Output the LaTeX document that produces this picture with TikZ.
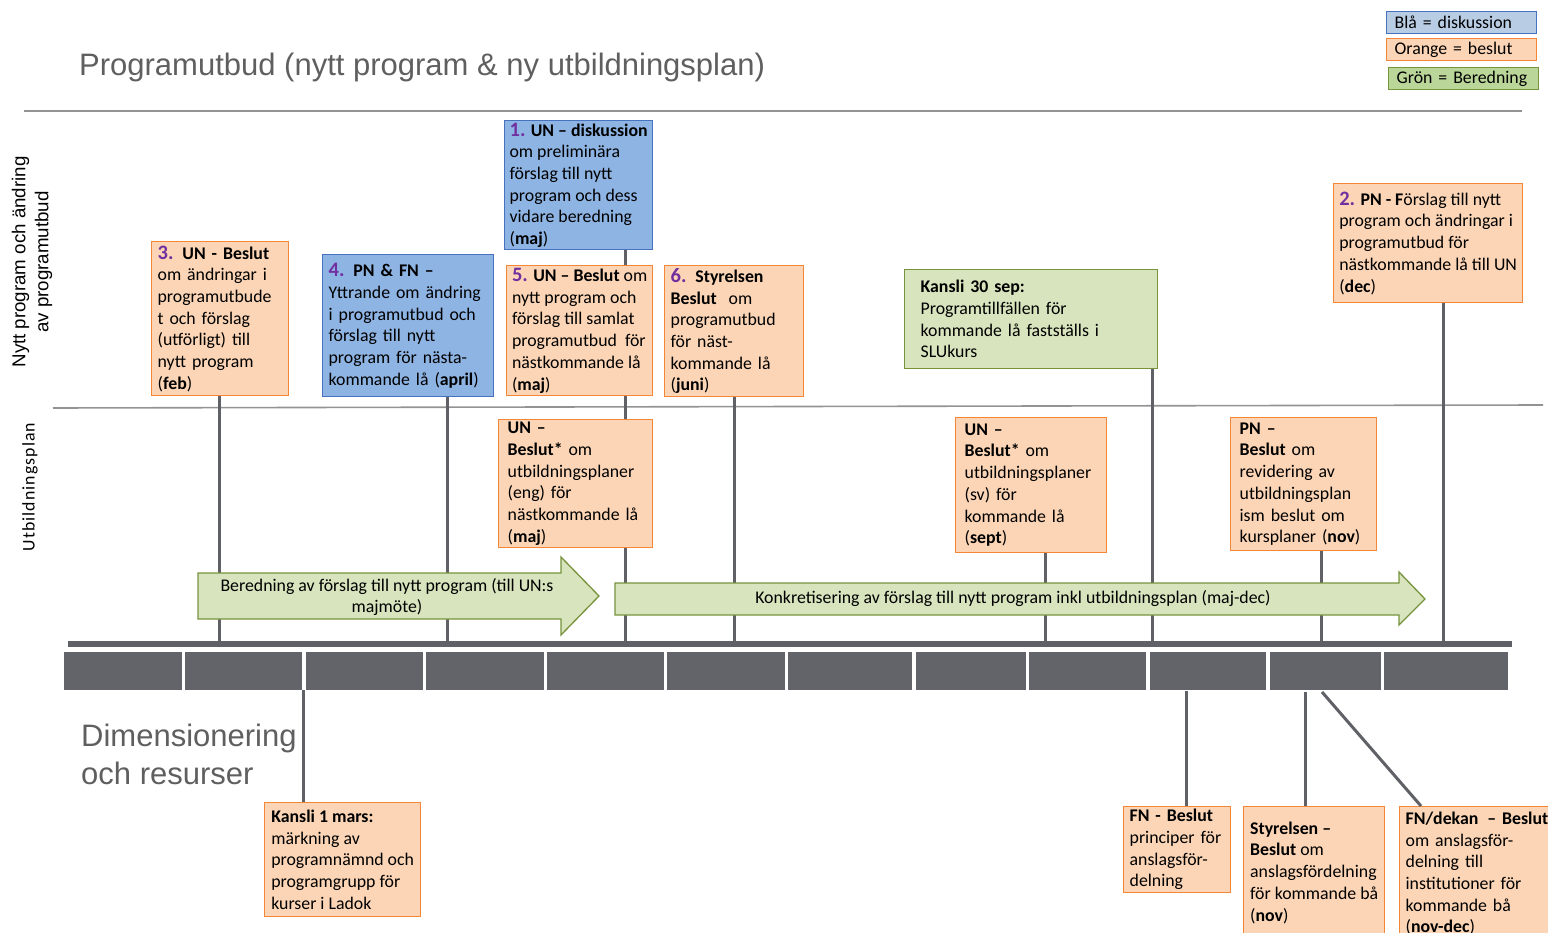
\documentclass[tikz,border=0pt]{standalone}
\usepackage{fontspec}
\setmainfont{Carlito}
\newfontfamily\arialfont{Liberation Sans}

\definecolor{bluefill}{RGB}{142,180,227}
\definecolor{blueline}{RGB}{70,114,190}
\definecolor{legblue}{RGB}{184,204,228}
\definecolor{orangefill}{RGB}{251,213,181}
\definecolor{orangeline}{RGB}{241,135,55}
\definecolor{greenfill}{RGB}{215,228,189}
\definecolor{greenline}{RGB}{119,147,60}
\definecolor{leggreen}{RGB}{187,214,153}
\definecolor{linegray}{RGB}{96,97,102}
\definecolor{blockgray}{RGB}{99,100,105}
\definecolor{textgray}{RGB}{95,95,95}
\definecolor{numpurple}{RGB}{112,48,160}

\newcommand{\boxfont}{\fontsize{17.8}{21.7}\selectfont}
\newcommand{\evnum}[1]{{\fontsize{20.5}{21.7}\selectfont\bfseries\color{numpurple}#1.}}

\tikzset{
    evbox/.style={draw, line width=1.3pt, anchor=north west, inner xsep=6pt,
        inner ysep=1pt, align=left, font=\boxfont},
    beslut/.style={evbox, fill=orangefill, draw=orangeline},
    diskus/.style={evbox, fill=bluefill, draw=blueline},
    bered/.style={evbox, fill=greenfill, draw=greenline},
    legbox/.style={evbox, inner xsep=8pt, inner ysep=0pt, text width=134pt,
        minimum height=22pt},
    conn/.style={draw=linegray, line width=3pt},
    secline/.style={draw=gray!85, line width=1.6pt},
    greenarrow/.style={fill=greenfill, draw=greenline, line width=1.3pt},
}

\begin{document}
\begin{tikzpicture}[x=1pt, y=-1pt]
    \useasboundingbox (0,0) rectangle (1548,933);

    % title, legend and section labels
    \node[anchor=west, inner sep=0, text=textgray, font=\arialfont\fontsize{31}{36}\selectfont]
        (title) at (79,67) {Programutbud (nytt program \& ny utbildningsplan)};
    \node[legbox, fill=legblue, draw=blueline] (legb) at (1386,11) {Blå = diskussion};
    \node[legbox, fill=orangefill, draw=orangeline] (lego) at (1386,38) {Orange = beslut};
    \node[legbox, fill=leggreen, draw=greenline] (legg) at (1388,67) {Grön = Beredning};

    \draw[secline] (24,111) -- (1522,111);
    \draw[secline] (53,408) -- (1543,405);

    \node[rotate=90, align=center, font=\arialfont\fontsize{18.7}{23}\selectfont]
        (labprog) at (32,262) {Nytt program och ändring\\av programutbud};
    \node[rotate=90, font=\fontsize{17.8}{20}\selectfont\addfontfeature{LetterSpace=6}]
        (labutb) at (30,487) {Utbildningsplan};
    \node[anchor=west, align=left, inner sep=0, text=textgray,
        font=\arialfont\fontsize{31}{38}\selectfont]
        (labdim) at (81,754) {Dimensionering\\och resurser};

    % timeline
    \fill[linegray] (68,641) rectangle (1512,647);
    \foreach \xa/\xb in {64/182, 185/302, 306/423, 426/544, 547/664, 667/785,
        788/912, 916/1026, 1029/1146, 1150/1266, 1270/1381, 1384/1508}
        \fill[blockgray] (\xa,652) rectangle (\xb,690);

    % events above the timeline
    \node[diskus, inner xsep=3pt, minimum width=148pt, minimum height=129pt] (b1) at (504,120)
        {\evnum{1} \textbf{UN – diskussion}\\om preliminära\\förslag till nytt\\program och dess\\vidare beredning\\(\textbf{maj})};
    \node[beslut, inner xsep=3pt, minimum width=189pt, minimum height=119pt] (b2) at (1333,183)
        {\evnum{2} \textbf{PN - F}örslag till nytt\\program och ändringar i\\programutbud för\\nästkommande lå till UN\\(\textbf{dec})};
    \node[beslut, text width=125pt, minimum height=154pt] (b3) at (151,241)
        {\evnum{3} \textbf{UN - Beslut}\\om ändringar i\\programutbude\\t och förslag\\(utförligt) till\\nytt program\\(\textbf{feb})};
    \node[diskus, text width=159pt, minimum height=142pt] (b4) at (322,254)
        {\evnum{4} \textbf{PN \& FN –}\\Yttrande om ändring\\i programutbud och\\förslag till nytt\\program för nästa-\\kommande lå (\textbf{april})};
    \node[beslut, inner xsep=3pt, minimum width=146pt, minimum height=130pt] (b5) at (506,265)
        {\evnum{5} \textbf{UN – Beslut} om\\nytt program och\\förslag till samlat\\programutbud\ \ för\\nästkommande lå\\(\textbf{maj})};
    \node[beslut, text width=127pt, minimum height=131pt] (b6) at (664,265)
        {\evnum{6} \textbf{Styrelsen}\\\textbf{Beslut}\ \ om\\programutbud\\för näst-\\kommande lå\\(\textbf{juni})};
    \node[bered, inner xsep=16pt, text width=221pt, minimum height=99pt] (k30) at (904,269)
        {\textbf{Kansli 30 sep:}\\Programtillfällen för\\kommande lå fastställs i\\SLUkurs};

    \node[beslut, inner xsep=9pt, text width=136pt, minimum height=128pt] (uneng) at (498,419)
        {\textbf{UN –}\\\textbf{Beslut*} om\\utbildningsplaner\\(eng) för\\nästkommande lå\\(\textbf{maj})};
    \node[beslut, inner xsep=9pt, text width=133pt, minimum height=135pt] (unsv) at (955,417)
        {\textbf{UN –}\\\textbf{Beslut*} om\\utbildningsplaner\\(sv) för\\kommande lå\\(\textbf{sept})};
    \node[beslut, inner xsep=9pt, text width=128pt, minimum height=133pt] (pnnov) at (1230,417)
        {\textbf{PN –}\\\textbf{Beslut} om\\revidering av\\utbildningsplan\\ism beslut om\\kursplaner (\textbf{nov})};

    % events below the timeline
    \node[beslut, inner xsep=3pt, minimum width=156pt, minimum height=114pt] (k1) at (264,802)
        {\textbf{Kansli 1 mars:}\\märkning av\\programnämnd och\\programgrupp för\\kurser i Ladok};
    \node[beslut, text width=95pt, minimum height=86pt] (fnb) at (1123,806)
        {\textbf{FN - Beslut}\\principer för\\anslagsför-\\delning};
    \node[beslut, inner xsep=3pt, minimum width=141pt, minimum height=132pt] (styr) at (1243,806)
        {\textbf{Styrelsen –}\\\textbf{Beslut} om\\anslagsfördelning\\för kommande bå\\(\textbf{nov})};
    \node[beslut, text width=148pt, minimum height=134pt] (fnd) at (1399,806)
        {\textbf{FN/dekan\,\ – Beslut}\\om anslagsför-\\delning till\\institutioner för\\kommande bå\\(\textbf{nov-dec})};

    % connectors to the timeline
    \coordinate (t3) at (219,644);
    \coordinate (t4) at (447,644);
    \coordinate (t5) at (625,644);
    \coordinate (t6) at (734,644);
    \coordinate (tsv) at (1045,644);
    \coordinate (tk) at (1152,644);
    \coordinate (tpn) at (1321,644);
    \coordinate (t2) at (1443,644);
    \draw[conn] (t3 |- b3.south) -- (t3);
    \draw[conn] (t4 |- b4.south) -- (t4);
    \draw[conn] (t5 |- b1.south) -- (t5 |- b5.north);
    \draw[conn] (t5 |- b5.south) -- (t5 |- uneng.north);
    \draw[conn] (t5 |- uneng.south) -- (t5);
    \draw[conn] (t6 |- b6.south) -- (t6);
    \draw[conn] (tsv |- unsv.south) -- (tsv);
    \draw[conn] (tk |- k30.south) -- (tk);
    \draw[conn] (tpn |- pnnov.south) -- (tpn);
    \draw[conn] (t2 |- b2.south) -- (t2);

    \coordinate (d1) at (303,690);
    \coordinate (d2) at (1186,691);
    \coordinate (d3) at (1305,692);
    \coordinate (d4) at (1322,692);
    \draw[conn] (d1) -- (d1 |- k1.north);
    \draw[conn] (d2) -- (d2 |- fnb.north);
    \draw[conn] (d3) -- (d3 |- styr.north);
    \draw[conn] (d4) -- ([xshift=22pt]fnd.north west);

    % preparation arrows
    \filldraw[greenarrow] (198,573) -- (561,573) -- (561,557) -- (599,596)
        -- (561,635) -- (561,619) -- (198,619) -- cycle;
    \node[align=center, font=\boxfont] (arrber) at (387,597)
        {Beredning av förslag till nytt program (till UN:s\\majmöte)};
    \filldraw[greenarrow] (615,583) -- (1399,583) -- (1399,572) -- (1425,599)
        -- (1399,625) -- (1399,615) -- (615,615) -- cycle;
    \node[font=\boxfont] (arrkonk) at (1013,599)
        {Konkretisering av förslag till nytt program inkl utbildningsplan (maj-dec)};

\end{tikzpicture}
\end{document}
